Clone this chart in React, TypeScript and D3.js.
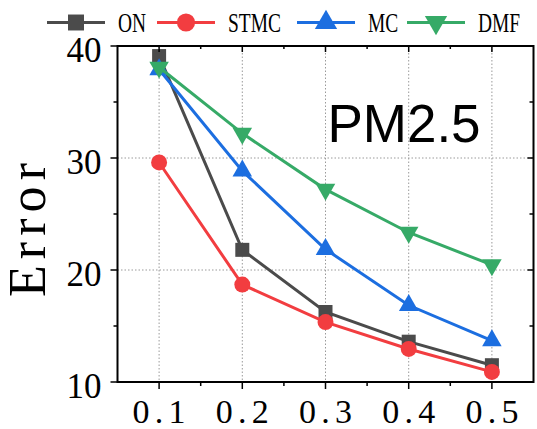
import React from "react";
import * as d3 from "d3";

// Missing-rate levels and error per method
const rates = [0.1, 0.2, 0.3, 0.4, 0.5];
const rateLabels = ["0.1", "0.2", "0.3", "0.4", "0.5"];
const errON = [39.1, 21.8, 16.25, 13.6, 11.5];
const errSTMC = [29.6, 18.7, 15.35, 12.95, 10.9];
const errMC = [37.9, 28.85, 21.85, 16.85, 13.7];
const errDMF = [38.1, 32.2, 27.2, 23.35, 20.45];
const yTicks = [10, 20, 30, 40];
const yMinorTicks = [15, 25, 35];
const seriesNames = ["ON", "STMC", "MC", "DMF"];
const datasetTitle = "PM2.5";

const W = 537;
const H = 429;
const M = { left: 117.5, right: 533.5, top: 46, bottom: 382 };

const styles = [
  { color: "#4b4b4b", symbol: d3.symbolSquare, size: 196, rotate: 0 },
  { color: "#f23d40", symbol: d3.symbolCircle, size: 200, rotate: 0 },
  { color: "#1c6ee0", symbol: d3.symbolTriangle, size: 165, rotate: 0 },
  { color: "#36aa67", symbol: d3.symbolTriangle, size: 165, rotate: 180 },
];

// x offsets where each legend entry starts
const legendStarts = [47, 157, 297, 407];

const SERIF = "'Liberation Serif', 'DejaVu Serif', serif";

function Squeezed(props: {
  x: number;
  y: number;
  text: string;
  size: number;
  squeeze: number;
  length?: number;
  anchor?: string;
  rotate?: number;
  family?: string;
}) {
  const { x, y, text, size, squeeze, length, anchor = "start", rotate = 0, family = SERIF } = props;
  return (
    <g transform={`translate(${x},${y}) rotate(${rotate}) scale(${squeeze},1)`}>
      <text
        textAnchor={anchor}
        fontFamily={family}
        fontSize={size}
        fill="#000"
        {...(length ? { textLength: length / squeeze, lengthAdjust: "spacing" } : {})}
      >
        {text}
      </text>
    </g>
  );
}

export default function App() {
  const x = d3.scaleLinear().domain([0.05, 0.55]).range([M.left, M.right]);
  const y = d3.scaleLinear().domain([10, 40]).range([M.bottom, M.top]);
  const all = [errON, errSTMC, errMC, errDMF];
  const line = d3
    .line<number>()
    .x((_, i) => x(rates[i]))
    .y((d) => y(d));
  const xMinor = d3.range(0.15, 0.55, 0.1);

  const sym = (k: number) => d3.symbol().type(styles[k].symbol).size(styles[k].size)() as string;

  return (
    <svg
      width={W}
      height={H}
      style={{ position: "absolute", left: 0, top: 0, background: "#fff" }}
    >
      {/* grid */}
      <g stroke="#9a9a9a" strokeWidth={1} strokeDasharray="1.5 2">
        {rates.map((r) => (
          <line key={r} x1={x(r)} x2={x(r)} y1={M.top} y2={M.bottom} />
        ))}
        {[20, 30].map((v) => (
          <line key={v} x1={M.left} x2={M.right} y1={y(v)} y2={y(v)} />
        ))}
      </g>

      {/* series */}
      {all.map((vals, k) => (
        <g key={k}>
          <path d={line(vals) as string} fill="none" stroke={styles[k].color} strokeWidth={3} />
          {vals.map((v, i) => (
            <path
              key={i}
              d={sym(k)}
              fill={styles[k].color}
              transform={`translate(${x(rates[i])},${y(v)}) rotate(${styles[k].rotate})`}
            />
          ))}
        </g>
      ))}

      {/* frame */}
      <rect
        x={M.left}
        y={M.top}
        width={M.right - M.left}
        height={M.bottom - M.top}
        fill="none"
        stroke="#000"
        strokeWidth={2}
      />

      {/* ticks: outward on bottom/left, inward on top/right */}
      <g stroke="#000" strokeWidth={1.5}>
        {rates.map((r) => (
          <g key={r}>
            <line x1={x(r)} x2={x(r)} y1={M.bottom} y2={M.bottom + 7} />
            <line x1={x(r)} x2={x(r)} y1={M.top} y2={M.top + 6} />
          </g>
        ))}
        {xMinor.map((r) => (
          <g key={r}>
            <line x1={x(r)} x2={x(r)} y1={M.bottom} y2={M.bottom + 4} />
            <line x1={x(r)} x2={x(r)} y1={M.top} y2={M.top + 3} />
          </g>
        ))}
        {yTicks.map((v) => (
          <g key={v}>
            <line x1={M.left - 7} x2={M.left} y1={y(v)} y2={y(v)} />
            <line x1={M.right - 6} x2={M.right} y1={y(v)} y2={y(v)} />
          </g>
        ))}
        {yMinorTicks.map((v) => (
          <g key={v}>
            <line x1={M.left - 4} x2={M.left} y1={y(v)} y2={y(v)} />
            <line x1={M.right - 4} x2={M.right} y1={y(v)} y2={y(v)} />
          </g>
        ))}
      </g>

      {/* y tick labels */}
      {yTicks.map((v) => (
        <text
          key={v}
          x={M.left - 16}
          y={y(v) + 16}
          textAnchor="end"
          fontFamily={SERIF}
          fontSize={35}
          fill="#000"
        >
          {v}
        </text>
      ))}

      {/* x tick labels */}
      {rates.map((r, i) => (
        <Squeezed
          key={r}
          x={x(r)}
          y={423}
          text={rateLabels[i]}
          size={34}
          squeeze={1}
          length={53}
          anchor="middle"
        />
      ))}

      {/* y axis title */}
      <Squeezed x={45} y={230} text="Error" size={52} squeeze={1} length={134} anchor="middle" rotate={-90} />

      {/* dataset title */}
      <text
        x={404}
        y={142}
        textAnchor="middle"
        fontFamily="'Liberation Sans', Arial, sans-serif"
        fontSize={53}
        fill="#000"
      >
        {datasetTitle}
      </text>

      {/* legend */}
      {seriesNames.map((name, k) => {
        const x0 = legendStarts[k];
        const cy = 22.5;
        return (
          <g key={name}>
            <line x1={x0} x2={x0 + 58} y1={cy} y2={cy} stroke={styles[k].color} strokeWidth={3} />
            <path
              d={d3.symbol().type(styles[k].symbol).size(styles[k].size * 1.3)() as string}
              fill={styles[k].color}
              transform={`translate(${x0 + 29},${cy}) rotate(${styles[k].rotate})`}
            />
            <Squeezed x={x0 + 71} y={32} text={name} size={27} squeeze={0.72} />
          </g>
        );
      })}
    </svg>
  );
}
